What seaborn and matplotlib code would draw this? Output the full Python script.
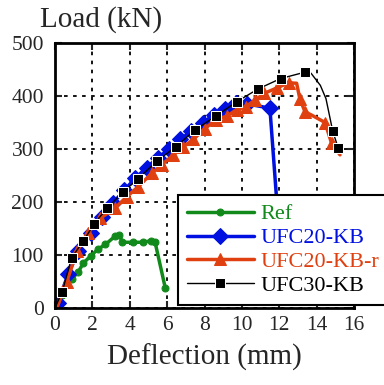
import numpy as np
import pandas as pd
import seaborn as sns
import matplotlib
matplotlib.use('Agg')
import matplotlib.pyplot as plt

# data
ref_x = [0.35, 0.9, 1.25, 1.5, 1.9, 2.3, 2.7, 3.2, 3.45, 3.6, 4.15, 4.7, 5.15, 5.35, 5.9]
ref_y = [25, 55, 68, 84, 98, 111, 120, 135, 138, 124, 124, 124, 127, 125, 38]

kb_x = [0.14, 0.71, 1.25, 1.91, 2.5, 3.1, 3.7, 4.3, 4.9, 5.5, 6.1, 6.7, 7.3, 7.9, 8.5, 9.1, 9.7, 10.3, 11.5, 12.1]
kb_y = [10, 64, 108, 142, 172, 198, 222, 245, 265, 283, 300, 318, 334, 350, 364, 376, 386, 385, 377, 90]

kbr_x = [0.1, 0.63, 1.19, 1.75, 2.41, 3.2, 3.84, 4.46, 5.17, 5.71, 6.33, 6.86, 7.4, 8.0, 8.6,
         9.19, 9.72, 10.2, 10.7, 11.2, 11.86, 12.5, 12.93, 13.1, 13.38, 13.73, 14.45, 14.8, 15.25]
kbr_y = [0, 50, 108, 141, 169, 188, 210, 229, 254, 270, 289, 304, 318, 338, 355,
         362, 374, 380, 392, 405, 415, 425, 424, 395, 370, 364, 350, 311, 289]
kbr_marks = [1, 2, 3, 4, 5, 6, 7, 8, 9, 10, 11, 12, 13, 14, 15, 16, 17, 18, 19, 20, 21, 23, 24, 26, 27]

kb30_x = [0.0, 0.39, 0.89, 1.51, 2.1, 2.8, 3.62, 4.42, 5.44, 6.46, 7.49, 8.6, 9.72, 10.85,
          12.08, 13.38, 13.7, 14.2, 14.5, 14.86, 15.16, 15.4]
kb30_y = [0, 31, 95, 126, 159, 189, 218, 243, 277, 304, 336, 362, 389, 413,
          433, 445, 443, 420, 395, 334, 301, 302]
kb30_marks = [1, 2, 3, 4, 5, 6, 7, 8, 9, 10, 11, 12, 13, 14, 15, 19, 20]

sns.set_style('ticks')
plt.rcParams['font.family'] = ['Liberation Serif', 'DejaVu Serif']

fig = plt.figure(figsize=(3.84, 3.85), dpi=100)
ax = fig.add_axes([55/384, 1 - 308/385, 299/384, 265/385])

sns.lineplot(x=ref_x, y=ref_y, ax=ax, color='#118a1b', lw=2.5, marker='o', ms=5,
             mec='#118a1b', sort=False, estimator=None, label='Ref')
sns.lineplot(x=kb_x, y=kb_y, ax=ax, color='#0010e0', lw=2.5, marker='D', ms=8,
             mec='#0010e0', sort=False, estimator=None, label='UFC20-KB')
sns.lineplot(x=kbr_x, y=kbr_y, ax=ax, color='#e04010', lw=2.5, marker='^', ms=9,
             mec='#e04010', markevery=kbr_marks, sort=False, estimator=None, label='UFC20-KB-r')
sns.lineplot(x=kb30_x, y=kb30_y, ax=ax, color='black', lw=1.0, marker='s', ms=7,
             markevery=kb30_marks, sort=False, estimator=None, label='UFC30-KB')

ax.set_xlim(0, 16)
ax.set_ylim(0, 500)
ax.set_xticks(range(0, 17, 2))
ax.set_yticks(range(0, 501, 100))
ax.grid(True, color='black', ls=(0, (2, 3)), lw=1.3)
ax.tick_params(direction='in', length=5, width=1.5, labelsize=15.5,
               right=True, top=True)
ax.tick_params(axis='y', pad=8)
ax.tick_params(axis='x', pad=6)
for sp in ax.spines.values():
    sp.set_linewidth(2)
    sp.set_color('black')
ax.set_xlabel('')
ax.set_ylabel('')

fig.text(40/384, 1 - 20/385, 'Load (kN)', fontsize=21, va='center', ha='left')
fig.text(204/384, 1 - 357/385, 'Deflection (mm)', fontsize=21, va='center', ha='center')

leg = ax.legend(loc='lower left', bbox_to_anchor=(178/384, 80/385), bbox_transform=fig.transFigure,
                borderaxespad=0, fontsize=16, frameon=True, fancybox=False, framealpha=1,
                edgecolor='black', handlelength=3.0, handletextpad=0.3, labelspacing=0.15,
                borderpad=0.4)
leg.get_frame().set_linewidth(1.5)
for t, c in zip(leg.get_texts(), ['#118a1b', '#0010e0', '#e04010', 'black']):
    t.set_color(c)

fig.savefig('out.png', dpi=100)
